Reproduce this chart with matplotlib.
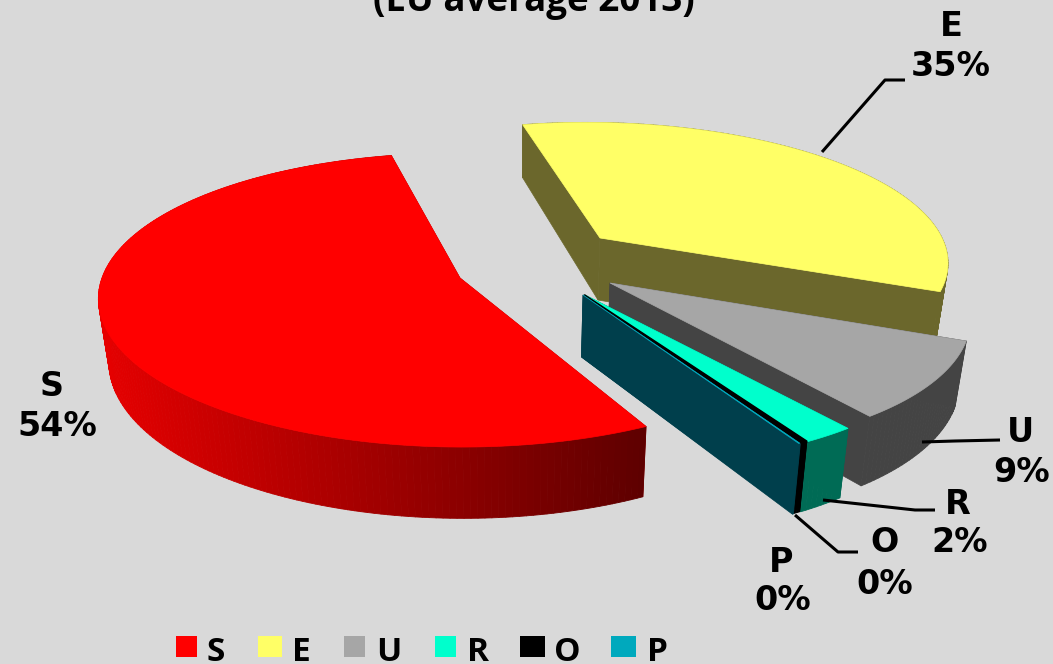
import numpy as np
import matplotlib
matplotlib.use("Agg")
import matplotlib.pyplot as plt
from matplotlib.collections import PolyCollection
from matplotlib.patches import Polygon, Rectangle

# ---- data ----
categories = ["S", "E", "U", "R", "O", "P"]
shares = [54.0, 34.6, 8.9, 2.15, 0.3, 0.05]
title_text = "(EU average 2013)"

# ---- style ----
top_colors = ["#FF0000", "#FFFF66", "#A6A6A6", "#00FFCC", "#000000", "#00A9BD"]
wall_colors = ["#A00000", "#6B672C", "#444444", "#006B55", "#000000", "#003F4C"]
legend_colors = ["#FF0000", "#FFFF66", "#A6A6A6", "#00FFCC", "#000000", "#00A9BD"]
BG = "#D9D9D9"
START = 153.0
K = 0.15
DEPTH = 62.0
X0 = 520.0
SLANT = 0.025

# slice layout: centre x, centre y, radius x, radius y, shear
layout = [
    (460, 278, 358, 147, 2),
    (600, 238, 342, 136, 14),
    (610, 283, 350, 147, 36),
    (585, 295, 350, 147, 40),
    (584, 295, 350, 147, 40),
    (583, 295, 350, 147, 40),
]
label_pos = [((52, 387), (57, 427)), ((951, 27), (951, 66)), ((1020, 433), (1022, 473)),
             ((958, 504), (960, 542)), ((884, 543), (885, 584)), ((781, 562), (783, 601))]
leaders = {
    "E": ([822, 885, 905], [152, 80, 80]),
    "U": ([922, 955, 1000], [442, 441, 440]),
    "R": ([823, 915, 935], [500, 510, 510]),
    "O": ([795, 838, 858], [515, 552, 552]),
}
legend_x = [(176, 197), (258, 282), (344, 365), (435, 456), (520, 545), (611, 636)]
legend_text_x = [207, 292, 376, 467, 554, 647]

fig = plt.figure(figsize=(10.53, 6.64), dpi=100, facecolor=BG)
ax = fig.add_axes([0, 0, 1, 1])
ax.set_xlim(0, 1053)
ax.set_ylim(664, 0)
ax.axis("off")


def top_pt(theta, lay):
    cx, cy, a, b, s = lay
    t = np.radians(theta)
    u, v = np.sin(t), -np.cos(t)
    return cx + a * u * (1 + K * v) + s * v, cy + b * v * (1 + K * v)


def bottom_of(x, y, theta):
    v = -np.cos(np.radians(theta))
    return x + (X0 - x) * SLANT, y + DEPTH * (1 + K * v)


angle = START
for i, (name, share) in enumerate(zip(categories, shares)):
    lay = layout[i]
    sweep = share * 3.6
    thetas = np.linspace(angle, angle + sweep, max(int(sweep) + 2, 2))
    tx, ty = top_pt(thetas, lay)
    bx, by = bottom_of(tx, ty, thetas)
    apex = (lay[0], lay[1])
    apex_b = bottom_of(lay[0], lay[1], 90.0)

    # radial walls
    ax.add_patch(Polygon([apex, (tx[0], ty[0]), (bx[0], by[0]), apex_b],
                         fc=wall_colors[i], ec=wall_colors[i], lw=0.5, zorder=2 + i))
    ax.add_patch(Polygon([apex, (tx[-1], ty[-1]), (bx[-1], by[-1]), apex_b],
                         fc=wall_colors[i], ec=wall_colors[i], lw=0.5, zorder=2 + i))
    # outer wall (facets, the red one shaded along the rim)
    quads, cols = [], []
    for j in range(len(thetas) - 1):
        quads.append([(tx[j], ty[j]), (tx[j + 1], ty[j + 1]), (bx[j + 1], by[j + 1]), (bx[j], by[j])])
        if name == "S":
            f = np.clip((tx[j] - 100) / 545, 0, 1)
            cols.append((0.90 - 0.53 * f, 0, 0))
        else:
            cols.append(wall_colors[i])
    ax.add_collection(PolyCollection(quads, facecolors=cols, edgecolors=cols, linewidths=0.6, zorder=2 + i))
    # top
    pts = [apex] + list(zip(tx, ty))
    edge_w = 1.6 if name == "O" else 0.5
    ax.add_patch(Polygon(pts, fc=top_colors[i], ec=top_colors[i], lw=edge_w, zorder=2 + i))
    angle += sweep

for name, (lx, ly) in leaders.items():
    ax.plot(lx, ly, color="black", lw=2.2, zorder=20, solid_capstyle="butt")

font = dict(family="DejaVu Sans", weight="bold", fontsize=24, color="black", ha="center", va="center", zorder=30)
for name, share, (p1, p2) in zip(categories, shares, label_pos):
    ax.text(p1[0], p1[1], name, **font)
    ax.text(p2[0], p2[1], f"{share:.0f}%", **font)

ax.text(534, 11, title_text, family="Open Sans", weight="bold", fontsize=26.5,
        ha="center", va="baseline", color="black", zorder=30)

for name, c, (x0, x1), tx_ in zip(categories, legend_colors, legend_x, legend_text_x):
    ax.add_patch(Rectangle((x0, 636), x1 - x0, 21, fc=c, ec="none", zorder=30))
    ax.text(tx_, 661, name, family="Open Sans", weight="bold", fontsize=24,
            ha="left", va="baseline", color="black", zorder=30)

fig.savefig("out.png", dpi=100, facecolor=BG)
